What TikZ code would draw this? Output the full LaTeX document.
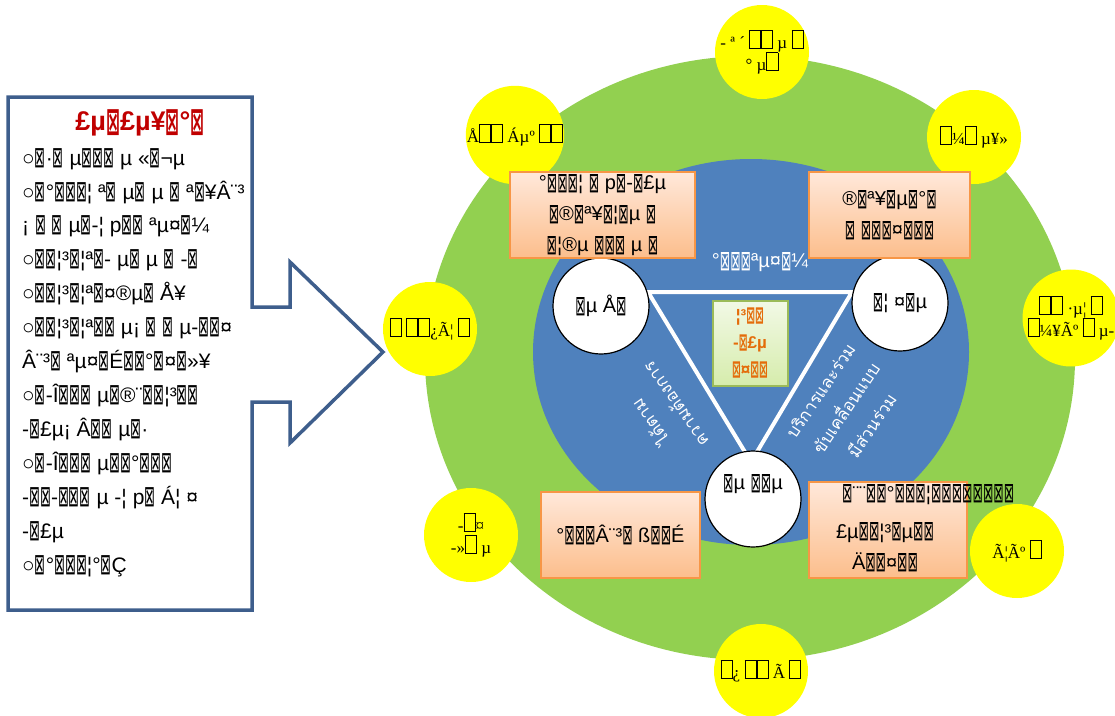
\documentclass[tikz,border=0pt]{standalone}
\usepackage{fontspec}
\setmainfont{Liberation Sans}
\newfontfamily\dvs{DejaVu Sans}
\newfontfamily\serifx{Liberation Serif}
\newfontfamily\thaif[Script=Thai]{Loma}
\usetikzlibrary{shapes.geometric}
\definecolor{bluefill}{RGB}{79,129,189}
\definecolor{greenfill}{RGB}{146,208,80}
\definecolor{yel}{RGB}{255,255,0}
\definecolor{oborder}{RGB}{247,150,70}
\definecolor{otop}{RGB}{255,232,218}
\definecolor{obot}{RGB}{252,190,140}
\definecolor{boxblue}{RGB}{62,94,140}
\definecolor{titlered}{RGB}{192,0,0}
\definecolor{cgborder}{RGB}{155,187,89}
\definecolor{cgtop}{RGB}{242,249,230}
\definecolor{cgbot}{RGB}{214,236,172}
\definecolor{ctext}{RGB}{228,108,10}
\newcommand\bx{\raisebox{-0.12em}{\scalebox{0.62}[1.4]{\dvs ⊠}}}
\newcommand\ebx{{\setlength\fboxsep{0pt}\setlength\fboxrule{0.9pt}\fbox{\rule{0pt}{1.0em}\hspace{0.6em}}}}
\tikzset{
  ybub/.style={circle, fill=yel, minimum size=94pt, inner sep=0pt, font=\serifx\fontsize{17}{22}\selectfont, align=center},
  wcirc/.style={circle, draw=black, line width=1.2pt, fill=white, minimum size=96pt, inner sep=0pt},
  obox/.style={draw=oborder, line width=2pt, top color=otop, bottom color=obot, inner sep=0pt, align=center, font=\fontsize{20}{31}\selectfont},
  ltext/.style={anchor=base west, inner sep=0pt, font=\fontsize{21}{24}\selectfont},
  thaitxt/.style={text=white, align=center, font=\thaif\fontsize{17}{31}\selectfont}
}
\begin{document}
\begin{tikzpicture}[x=1pt,y=-1pt]
\useasboundingbox (0,0) rectangle (1115,715);
% left arrow box
\draw[boxblue, line width=3.5pt, fill=white, line join=miter]
  (8,97) -- (252,97) -- (252,307) -- (290,307) -- (290,262) -- (383,352)
  -- (290,443) -- (290,402) -- (252,402) -- (252,610) -- (8,610) -- cycle;
\node[font=\bfseries\fontsize{27}{30}\selectfont, text=titlered] (title) at (140,123) {£µ\bx{}£µ¥\bx{}°\bx{}};
\node[ltext] (l1) at (22,165) {○\bx{}·\bx{} µ\bx{}\bx{}\bx{} µ «\bx{}¬µ};
\node[ltext] (l2) at (22,199) {○\bx{}°\bx{}\bx{}\bx{}¦ ª\bx{} µ\bx{} µ \bx{} ª\bx{}¥Â¨³};
\node[ltext] (l3) at (22,232) {¡ \bx{} \bx{} µ\bx{}-¦ p\bx{}\bx{} ªµ¤\bx{}¼};
\node[ltext] (l4) at (22,266) {○\bx{}\bx{}¦³\bx{}¦ª\bx{}- µ\bx{} µ \bx{} -\bx{}};
\node[ltext] (l5) at (22,300) {○\bx{}\bx{}¦³\bx{}¦ª\bx{}¤®µ\bx{} Å¥};
\node[ltext] (l6) at (22,334) {○\bx{}\bx{}¦³\bx{}¦ª\bx{}\bx{} µ¡ \bx{} \bx{} µ-\bx{}\bx{}¤};
\node[ltext] (l7) at (22,368) {Â¨³\bx{} ªµ¤\bx{}É\bx{}\bx{}°\bx{}¤\bx{}»¥};
\node[ltext] (l8) at (22,402) {○\bx{}-Î\bx{}\bx{}\bx{} µ\bx{}®¨\bx{}\bx{}¦³\bx{}\bx{}};
\node[ltext] (l9) at (22,436) {-\bx{}£µ¡ Â\bx{}\bx{} µ\bx{}·};
\node[ltext] (l10) at (22,470) {○\bx{}-Î\bx{}\bx{}\bx{} µ\bx{}\bx{}°\bx{}\bx{}\bx{}};
\node[ltext] (l11) at (22,504) {-\bx{}\bx{}-\bx{}\bx{}\bx{} µ -¦ p\bx{} Á¦ ¤};
\node[ltext] (l12) at (22,538) {-\bx{}£µ};
\node[ltext] (l13) at (22,572) {○\bx{}°\bx{}\bx{}\bx{}¦°\bx{}Ç};
% big ellipses
\fill[greenfill] (750,358) ellipse [x radius=325pt, y radius=302pt];
\fill[bluefill] (751,352) ellipse [x radius=218pt, y radius=193pt];
% yellow bubbles
\node[ybub] (y1) at (762,52) {- ª ´ \ebx{}\ebx{} µ \ebx{}\\ ° µ\ebx{}};
\node[ybub] (y2) at (515,135) {Å\ebx{}\ebx{} Áµº \ebx{}\ebx{}};
\node[ybub] (y3) at (974,137) {\ebx{}¼\ebx{} µ¥»};
\node[ybub] (y4) at (1071,318) {\ebx{}\ebx{} ·µ¦ \ebx{}\\\ebx{}¼¥Ãº \ebx{} µ-};
\node[ybub] (y5) at (430,329) {\ebx{} \ebx{}\ebx{}¿Ã¦ \ebx{}};
\node[ybub] (y6) at (471,535) {-\ebx{}¤\\-»\ebx{} µ};
\node[ybub] (y7) at (1017,551) {Ã¦Ãº \ebx{}};
\node[ybub] (y8) at (761,671) {\ebx{}¿ \ebx{}\ebx{} Ã \ebx{}};
% triangle
\coordinate (ta) at (648,292);
\coordinate (tb) at (852,292);
\coordinate (tc) at (751,462);
\draw[white, line width=4pt] (ta) -- (tb) -- (tc) -- cycle;
\node[text=white, font=\fontsize{20}{22}\selectfont] (mid) at (760,262) {°\bx{}\bx{}\bx{}ªµ¤\bx{}¼};
% white circles
\node[wcirc] (cl) at (601,306) {};
\node[font=\fontsize{20}{22}\selectfont] (cltx) at (cl) {\bx{}µ Å\bx{}};
\node[wcirc] (cr) at (900,303) {};
\node[font=\fontsize{20}{22}\selectfont] (crtx) at (cr) {\bx{}¦ ¤\bx{}µ};
\node[wcirc] (cb) at (753,499) {};
\node[font=\fontsize{20}{22}\selectfont] (cbtx) at (753,484) {\bx{}µ \bx{}\bx{}µ};
% center box
\node[draw=cgborder, line width=2pt, top color=cgtop, bottom color=cgbot, minimum width=75pt, minimum height=85pt, inner sep=0pt, align=center, text=ctext, font=\bfseries\fontsize{17}{27}\selectfont] (cg) at (750,343) {¦³\bx{}\bx{}\\-\bx{}£µ\\\bx{}¤\bx{}\bx{}};
% orange boxes
\node[obox, minimum width=185pt, minimum height=86pt] (ob1) at (602.5,215) {°\bx{}\bx{}\bx{}¦ \bx{} p\bx{}-\bx{}£µ\\\bx{}®\bx{}ª¥\bx{}¦\bx{}µ \bx{}\\\bx{}¦®µ \bx{}\bx{}\bx{} µ \bx{}};
\node[obox, minimum width=161pt, minimum height=86pt] (ob2) at (889.5,215) {®\bx{}ª¥\bx{}µ\bx{}°\bx{}\\\bx{} \bx{}\bx{}\bx{}¤\bx{}\bx{}\bx{}};
\node[obox, minimum width=159pt, minimum height=86pt] (ob3) at (620.5,535) {°\bx{}\bx{}\bx{}Â¨³\bx{} ß\bx{}\bx{}É};
\node[obox, minimum width=158pt, minimum height=96pt] (ob4) at (888,530) {};
\node[anchor=base west, inner sep=0pt, font=\fontsize{20}{22}\selectfont] (ob4a) at (842,500) {\bx{}¨¨\bx{}\bx{}°\bx{}\bx{}\bx{}¦\bx{}\bx{}\bx{}\bx{}\bx{}\bx{}\bx{}\bx{}};
\node[anchor=base, inner sep=0pt, font=\fontsize{20}{22}\selectfont] (ob4b) at (885,538) {£µ\bx{}\bx{}¦³\bx{}µ\bx{}\bx{}};
\node[anchor=base, inner sep=0pt, font=\fontsize{20}{22}\selectfont] (ob4c) at (885,569) {Ä\bx{}\bx{}¤\bx{}\bx{}};
% Thai side labels
\node[thaitxt, rotate=56] (rt) at (846,408) {บริการและร่วม\\ขับเคลื่อนแบบ\\มีส่วนร่วม};
\node[thaitxt, rotate=125] (lt) at (662,414) {ได้ตาม\\ความต้องการ};
\end{tikzpicture}
\end{document}
